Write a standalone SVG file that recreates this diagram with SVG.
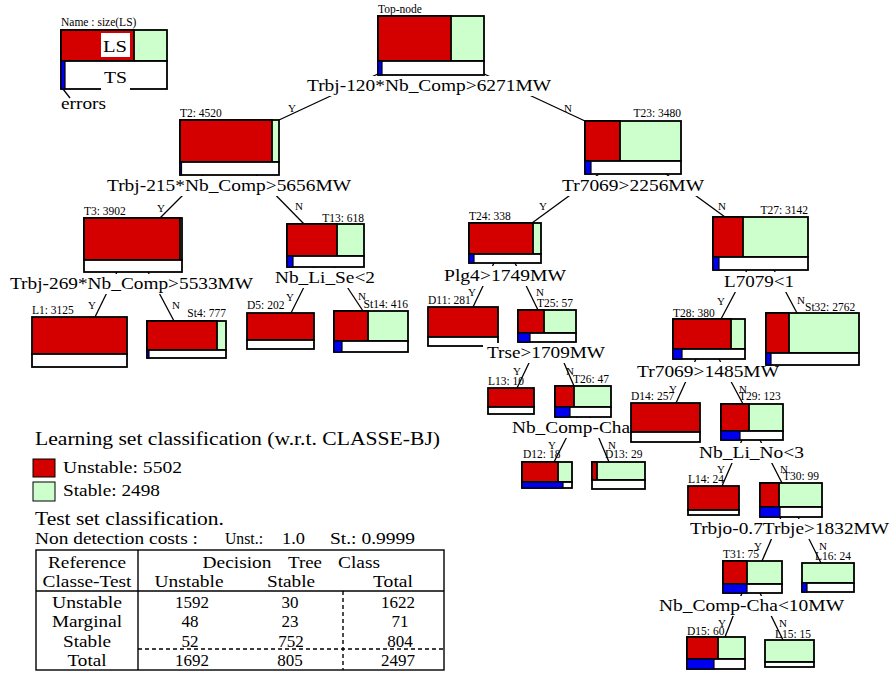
<svg xmlns="http://www.w3.org/2000/svg" width="890" height="673" viewBox="0 0 890 673">
<style>
text{font-family:"Liberation Serif","Times New Roman",serif;fill:#000}
.c{font-size:17px}
.h{font-size:19px}
.s{font-size:11.5px}
.yn{font-size:11px}
.m{text-anchor:middle}
.e{text-anchor:end}
.r{fill:#d40000;stroke:#000;stroke-width:1.8}
.g{fill:#ccffcc;stroke:#000;stroke-width:1.8}
.w{fill:#fff;stroke:#000;stroke-width:1.8}
.b{fill:#0000f0;stroke:#000;stroke-width:1.2}
.bg{fill:#fff}
.t{fill:none;stroke:#000;stroke-width:1.4}
.d{fill:none;stroke:#000;stroke-width:1.4;stroke-dasharray:4 3}
</style>
<rect width="890" height="673" fill="#fff"/>

<g id="connectors" stroke="#000" stroke-width="1.3">
<line x1="380" y1="73" x2="279" y2="120"/>
<line x1="482" y1="73" x2="585" y2="121"/>
<line x1="203" y1="175" x2="160" y2="218"/>
<line x1="256" y1="175" x2="304" y2="224"/>
<line x1="117" y1="272" x2="95" y2="317"/>
<line x1="148" y1="272" x2="174" y2="321"/>
<line x1="314" y1="267" x2="291" y2="313"/>
<line x1="334" y1="267" x2="363" y2="311"/>
<line x1="599" y1="174" x2="532" y2="223"/>
<line x1="666" y1="174" x2="725" y2="217"/>
<line x1="494" y1="263" x2="473" y2="307"/>
<line x1="515" y1="263" x2="538" y2="310"/>
<line x1="539" y1="342" x2="517" y2="388"/>
<line x1="555" y1="342" x2="574" y2="386"/>
<line x1="577" y1="417" x2="554" y2="462"/>
<line x1="590" y1="417" x2="609" y2="462"/>
<line x1="747" y1="270" x2="721" y2="319"/>
<line x1="774" y1="270" x2="797" y2="313"/>
<line x1="696" y1="359" x2="676" y2="403"/>
<line x1="719" y1="359" x2="743" y2="404"/>
<line x1="742" y1="440" x2="722" y2="486"/>
<line x1="760" y1="440" x2="782" y2="483"/>
<line x1="781" y1="517" x2="762" y2="561"/>
<line x1="798" y1="517" x2="821" y2="563"/>
<line x1="742" y1="593" x2="725" y2="637"/>
<line x1="760" y1="593" x2="783" y2="640"/>
<line x1="63" y1="89" x2="70" y2="98"/>
<g stroke="none">
<text class="yn" x="288" y="112">Y</text>
<text class="yn" x="564" y="112">N</text>
<text class="yn" x="157" y="212">Y</text>
<text class="yn" x="295" y="210">N</text>
<text class="yn" x="539" y="210">Y</text>
<text class="yn" x="718" y="210">N</text>
<text class="yn" x="88" y="309">Y</text>
<text class="yn" x="172" y="309">N</text>
<text class="yn" x="286" y="301">Y</text>
<text class="yn" x="358" y="300">N</text>
<text class="yn" x="468" y="296">Y</text>
<text class="yn" x="536" y="296">N</text>
<text class="yn" x="717" y="305">Y</text>
<text class="yn" x="797" y="304">N</text>
<text class="yn" x="513" y="375">Y</text>
<text class="yn" x="566" y="375">N</text>
<text class="yn" x="548" y="449">Y</text>
<text class="yn" x="608" y="449">N</text>
<text class="yn" x="669" y="393">Y</text>
<text class="yn" x="739" y="393">N</text>
<text class="yn" x="717" y="473">Y</text>
<text class="yn" x="780" y="473">N</text>
<text class="yn" x="754" y="550">Y</text>
<text class="yn" x="819" y="550">N</text>
<text class="yn" x="718" y="627">Y</text>
<text class="yn" x="779" y="627">N</text>
</g>
</g>

<g id="legend-node">
<text class="s" x="61" y="26">Name : size(LS)</text>
<rect class="g" x="61" y="30" width="106" height="31"/>
<rect class="r" x="61" y="30" width="73" height="31"/>
<rect class="bg" x="101" y="33" width="29" height="24"/>
<text class="c" x="103" y="52" textLength="24" lengthAdjust="spacingAndGlyphs">LS</text>
<rect class="w" x="61" y="61" width="106" height="28"/>
<rect class="b" x="61" y="61" width="4" height="28"/>
<rect class="bg" x="101" y="64" width="29" height="27"/>
<text class="c" x="104" y="83" textLength="23" lengthAdjust="spacingAndGlyphs">TS</text>
<text class="c" x="61" y="109" textLength="45" lengthAdjust="spacingAndGlyphs">errors</text>
</g>

<g id="Top-node">
<text class="s" x="378" y="13">Top-node</text>
<rect class="g" x="378" y="16" width="106" height="45"/>
<rect class="r" x="378" y="16" width="73" height="45"/>
<rect class="w" x="378" y="61" width="106" height="14"/>
<rect class="b" x="378" y="61" width="4" height="14"/>
<rect class="bg" x="303" y="76" width="252" height="20"/>
<text class="c" x="307" y="91" textLength="244" lengthAdjust="spacingAndGlyphs">Trbj-120*Nb_Comp&gt;6271MW</text>
</g>

<g id="T2">
<text class="s" x="180" y="117">T2: 4520</text>
<rect class="g" x="180" y="120" width="99" height="42"/>
<rect class="r" x="180" y="120" width="92" height="42"/>
<rect class="w" x="180" y="162" width="99" height="13"/>
<rect class="b" x="180" y="162" width="1.5" height="13"/>
<rect class="bg" x="103" y="176" width="252" height="20"/>
<text class="c" x="107" y="190.5" textLength="244" lengthAdjust="spacingAndGlyphs">Trbj-215*Nb_Comp&gt;5656MW</text>
</g>

<g id="T3">
<text class="s" x="84" y="215">T3: 3902</text>
<rect class="g" x="84" y="218" width="98" height="42"/>
<rect class="r" x="84" y="218" width="96" height="42"/>
<rect class="w" x="84" y="260" width="98" height="12"/>
<rect class="bg" x="6" y="274" width="251" height="20"/>
<text class="c" x="10" y="289" textLength="243" lengthAdjust="spacingAndGlyphs">Trbj-269*Nb_Comp&gt;5533MW</text>
</g>

<g id="L1">
<text class="s" x="32" y="314">L1: 3125</text>
<rect class="r" x="32" y="317" width="95" height="37"/>
<rect class="w" x="32" y="354" width="95" height="13"/>
</g>

<g id="St4">
<text class="s e" x="226" y="317">St4: 777</text>
<rect class="g" x="147" y="321" width="79" height="29"/>
<rect class="r" x="147" y="321" width="70" height="29"/>
<rect class="w" x="147" y="350" width="79" height="8"/>
<rect class="b" x="147" y="350" width="2" height="8"/>
</g>

<g id="T13">
<text class="s e" x="364" y="222">T13: 618</text>
<rect class="g" x="287" y="224" width="77" height="32"/>
<rect class="r" x="287" y="224" width="50" height="32"/>
<rect class="w" x="287" y="256" width="77" height="11"/>
<rect class="b" x="287" y="256" width="6" height="11"/>
<rect class="bg" x="271" y="268" width="108" height="20"/>
<text class="c" x="275" y="283" textLength="100" lengthAdjust="spacingAndGlyphs">Nb_Li_Se&lt;2</text>
</g>

<g id="D5">
<text class="s" x="247" y="309">D5: 202</text>
<rect class="r" x="247" y="313" width="67" height="27"/>
<rect class="w" x="247" y="340" width="67" height="9"/>
</g>

<g id="St14">
<text class="s e" x="408" y="308">St14: 416</text>
<rect class="g" x="334" y="311" width="74" height="30"/>
<rect class="r" x="334" y="311" width="34" height="30"/>
<rect class="w" x="334" y="341" width="74" height="11"/>
<rect class="b" x="334" y="341" width="8" height="11"/>
</g>

<g id="T23">
<text class="s e" x="681" y="117">T23: 3480</text>
<rect class="g" x="585" y="121" width="96" height="40"/>
<rect class="r" x="585" y="121" width="35" height="40"/>
<rect class="w" x="585" y="161" width="96" height="13"/>
<rect class="b" x="585" y="161" width="6" height="13"/>
<rect class="bg" x="558" y="176" width="150" height="20"/>
<text class="c" x="562" y="191" textLength="142" lengthAdjust="spacingAndGlyphs">Tr7069&gt;2256MW</text>
</g>

<g id="T24">
<text class="s" x="469" y="220">T24: 338</text>
<rect class="g" x="469" y="223" width="72" height="31"/>
<rect class="r" x="469" y="223" width="64" height="31"/>
<rect class="w" x="469" y="254" width="72" height="9"/>
<rect class="b" x="469" y="254" width="5" height="9"/>
<rect class="bg" x="440" y="266" width="130" height="20"/>
<text class="c" x="444" y="281" textLength="122" lengthAdjust="spacingAndGlyphs">Plg4&gt;1749MW</text>
</g>

<g id="D11">
<text class="s" x="428" y="304">D11: 281</text>
<rect class="r" x="428" y="307" width="70" height="30"/>
<rect class="w" x="428" y="337" width="70" height="9"/>
</g>

<g id="T25">
<text class="s" x="537" y="307">T25: 57</text>
<rect class="g" x="518" y="310" width="58" height="23"/>
<rect class="r" x="518" y="310" width="26" height="23"/>
<rect class="w" x="518" y="333" width="58" height="9"/>
<rect class="b" x="518" y="333" width="12" height="9"/>
<rect class="bg" x="483" y="343" width="126" height="20"/>
<text class="c" x="487" y="358" textLength="118" lengthAdjust="spacingAndGlyphs">Trse&gt;1709MW</text>
</g>

<g id="L13">
<text class="s" x="488" y="385">L13: 10</text>
<rect class="r" x="488" y="388" width="46" height="19"/>
<rect class="w" x="488" y="407" width="46" height="7"/>
</g>

<g id="T26">
<text class="s" x="573" y="383">T26: 47</text>
<rect class="g" x="555" y="386" width="56" height="21"/>
<rect class="r" x="555" y="386" width="19" height="21"/>
<rect class="w" x="555" y="407" width="56" height="10"/>
<rect class="b" x="555" y="407" width="15" height="10"/>
<rect class="bg" x="508" y="418" width="126" height="20"/>
<text class="c" x="512" y="433" textLength="118" lengthAdjust="spacingAndGlyphs">Nb_Comp-Cha</text>
</g>

<g id="D12">
<text class="s" x="523" y="458">D12: 18</text>
<rect class="g" x="522" y="462" width="50" height="20"/>
<rect class="r" x="522" y="462" width="36" height="20"/>
<rect class="w" x="522" y="482" width="50" height="6"/>
<rect class="b" x="522" y="482" width="41" height="6"/>
</g>

<g id="D13">
<text class="s" x="605" y="458">D13: 29</text>
<rect class="g" x="592" y="462" width="53" height="18"/>
<rect class="r" x="592" y="462" width="5" height="18"/>
<rect class="w" x="592" y="480" width="53" height="9"/>
</g>

<g id="T27">
<text class="s e" x="808" y="214">T27: 3142</text>
<rect class="g" x="713" y="217" width="95" height="40"/>
<rect class="r" x="713" y="217" width="30" height="40"/>
<rect class="w" x="713" y="257" width="95" height="13"/>
<rect class="b" x="713" y="257" width="6" height="13"/>
<rect class="bg" x="720" y="272" width="78" height="20"/>
<text class="c" x="724" y="287" textLength="70" lengthAdjust="spacingAndGlyphs">L7079&lt;1</text>
</g>

<g id="T28">
<text class="s" x="673" y="317">T28: 380</text>
<rect class="g" x="673" y="319" width="72" height="30"/>
<rect class="r" x="673" y="319" width="58" height="30"/>
<rect class="w" x="673" y="349" width="72" height="10"/>
<rect class="b" x="673" y="349" width="9" height="10"/>
<rect class="bg" x="633" y="362" width="150" height="20"/>
<text class="c" x="637" y="377" textLength="142" lengthAdjust="spacingAndGlyphs">Tr7069&gt;1485MW</text>
</g>

<g id="D14">
<text class="s" x="631" y="400">D14: 257</text>
<rect class="r" x="631" y="403" width="69" height="29"/>
<rect class="w" x="631" y="432" width="69" height="10"/>
</g>

<g id="T29">
<text class="s" x="739" y="400">T29: 123</text>
<rect class="g" x="721" y="404" width="62" height="27"/>
<rect class="r" x="721" y="404" width="28" height="27"/>
<rect class="w" x="721" y="431" width="62" height="9"/>
<rect class="b" x="721" y="431" width="19" height="9"/>
<rect class="bg" x="696" y="443" width="112" height="20"/>
<text class="c" x="699" y="458" textLength="105" lengthAdjust="spacingAndGlyphs">Nb_Li_No&lt;3</text>
</g>

<g id="L14">
<text class="s" x="688" y="483">L14: 24</text>
<rect class="r" x="688" y="486" width="51" height="24"/>
<rect class="w" x="688" y="510" width="51" height="5"/>
</g>

<g id="T30">
<text class="s" x="783" y="480">T30: 99</text>
<rect class="g" x="760" y="483" width="62" height="24"/>
<rect class="r" x="760" y="483" width="19" height="24"/>
<rect class="w" x="760" y="507" width="62" height="10"/>
<rect class="b" x="760" y="507" width="20" height="10"/>
<rect class="bg" x="686" y="519" width="204" height="20"/>
<text class="c" x="690" y="534" textLength="199" lengthAdjust="spacingAndGlyphs">Trbjo-0.7Trbje&gt;1832MW</text>
</g>

<g id="T31">
<text class="s" x="723" y="558">T31: 75</text>
<rect class="g" x="723" y="561" width="59" height="23"/>
<rect class="r" x="723" y="561" width="24" height="23"/>
<rect class="w" x="723" y="584" width="59" height="9"/>
<rect class="b" x="723" y="584" width="24" height="9"/>
<rect class="bg" x="655" y="596" width="193" height="20"/>
<text class="c" x="659" y="611" textLength="185" lengthAdjust="spacingAndGlyphs">Nb_Comp-Cha&lt;10MW</text>
</g>

<g id="D15">
<text class="s" x="687" y="635">D15: 60</text>
<rect class="g" x="687" y="637" width="58" height="22"/>
<rect class="r" x="687" y="637" width="31" height="22"/>
<rect class="w" x="687" y="659" width="58" height="10"/>
<rect class="b" x="687" y="659" width="27" height="10"/>
</g>

<g id="L15">
<text class="s" x="775" y="638">L15: 15</text>
<rect class="g" x="765" y="640" width="49" height="22"/>
<rect class="w" x="765" y="662" width="49" height="5"/>
</g>

<g id="L16">
<text class="s" x="815" y="560">L16: 24</text>
<rect class="g" x="802" y="563" width="52" height="20"/>
<rect class="w" x="802" y="583" width="52" height="9"/>
<rect class="b" x="802" y="583" width="5" height="9"/>
</g>

<g id="St32">
<text class="s" x="805" y="311">St32: 2762</text>
<rect class="g" x="766" y="313" width="93" height="40"/>
<rect class="r" x="766" y="313" width="23" height="40"/>
<rect class="w" x="766" y="353" width="93" height="12"/>
<rect class="b" x="766" y="353" width="5" height="12"/>
</g>

<g id="legend">
<text class="h" x="35" y="445" textLength="405" lengthAdjust="spacingAndGlyphs">Learning set classification (w.r.t. CLASSE-BJ)</text>
<rect x="33" y="459" width="22" height="18" fill="#d40000" stroke="#000" stroke-width="1"/>
<text class="c" x="63" y="473" textLength="119" lengthAdjust="spacingAndGlyphs">Unstable: 5502</text>
<rect x="33" y="482" width="22" height="19" fill="#ccffcc" stroke="#000" stroke-width="1"/>
<text class="c" x="63" y="496" textLength="97" lengthAdjust="spacingAndGlyphs">Stable: 2498</text>
<text class="h" x="35" y="525" textLength="189" lengthAdjust="spacingAndGlyphs">Test set classification.</text>
<text class="c" x="35" y="544" textLength="163" lengthAdjust="spacingAndGlyphs">Non detection costs :</text>
<text class="c" x="225" y="544" textLength="38" lengthAdjust="spacingAndGlyphs">Unst.:</text>
<text class="c" x="282" y="544" textLength="23" lengthAdjust="spacingAndGlyphs">1.0</text>
<text class="c" x="330" y="544" textLength="85" lengthAdjust="spacingAndGlyphs">St.: 0.9999</text>
</g>

<g id="table">
<rect class="t" x="36" y="550" width="408" height="120"/>
<line class="t" x1="138" y1="550" x2="138" y2="670"/>
<line class="t" x1="36" y1="591" x2="444" y2="591"/>
<line class="d" x1="343" y1="591" x2="343" y2="670"/>
<line class="d" x1="138" y1="649" x2="444" y2="649"/>
<g class="c m">
<text class="c m" x="87" y="568" textLength="78" lengthAdjust="spacingAndGlyphs">Reference</text>
<text class="c m" x="87" y="587" textLength="89" lengthAdjust="spacingAndGlyphs">Classe-Test</text>
<text class="c m" x="237" y="568" textLength="69" lengthAdjust="spacingAndGlyphs">Decision</text>
<text class="c m" x="305" y="568" textLength="34" lengthAdjust="spacingAndGlyphs">Tree</text>
<text class="c m" x="359" y="568" textLength="42" lengthAdjust="spacingAndGlyphs">Class</text>
<text class="c m" x="189" y="587" textLength="69" lengthAdjust="spacingAndGlyphs">Unstable</text>
<text class="c m" x="291" y="587" textLength="48" lengthAdjust="spacingAndGlyphs">Stable</text>
<text class="c m" x="393" y="587" textLength="40" lengthAdjust="spacingAndGlyphs">Total</text>
<text class="c m" x="87" y="608" textLength="70" lengthAdjust="spacingAndGlyphs">Unstable</text>
<text class="c m" x="87" y="627" textLength="70" lengthAdjust="spacingAndGlyphs">Marginal</text>
<text class="c m" x="87" y="647" textLength="48" lengthAdjust="spacingAndGlyphs">Stable</text>
<text class="c m" x="87" y="666" textLength="39" lengthAdjust="spacingAndGlyphs">Total</text>
<text class="c m" x="192" y="608">1592</text>
<text class="c m" x="290" y="608">30</text>
<text class="c m" x="398" y="608">1622</text>
<text class="c m" x="190" y="627">48</text>
<text class="c m" x="290" y="627">23</text>
<text class="c m" x="400" y="627">71</text>
<text class="c m" x="190" y="647">52</text>
<text class="c m" x="291" y="647">752</text>
<text class="c m" x="400" y="647">804</text>
<text class="c m" x="192" y="666">1692</text>
<text class="c m" x="290" y="666">805</text>
<text class="c m" x="398" y="666">2497</text>
</g>
</g>
</svg>
